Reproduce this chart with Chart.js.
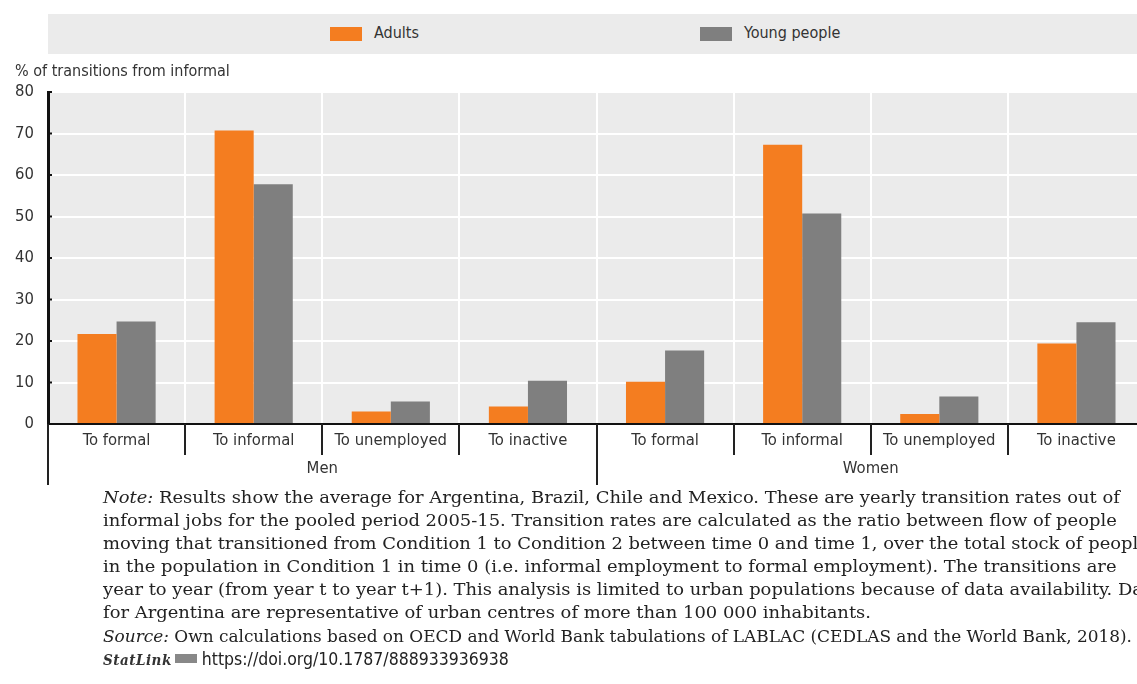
<!DOCTYPE html>
<html>
<head>
<meta charset="utf-8">
<script src="https://cdn.jsdelivr.net/npm/chart.js@4"></script>
<style>
  html, body { margin: 0; padding: 0; background: #fff; }
  body { width: 1137px; height: 684px; overflow: hidden; position: relative; }
  .narrow { font-family: "DejaVu Sans Condensed", "Liberation Sans Narrow", sans-serif; color: #333; }
  #legend { position: absolute; left: 48px; top: 14px; width: 1100px; height: 40px; background: #ebebeb; }
  .swatch { position: absolute; top: 13px; width: 32px; height: 14px; }
  .legText { position: absolute; top: 9px; font-size: 16px; line-height: 20px; }
  #yTitle { position: absolute; left: 15px; top: 61px; font-size: 16px; line-height: 20px; }
  #chartBox { position: absolute; left: 0; top: 0; width: 1150px; height: 490px; }
  #notes { position: absolute; left: 103px; top: 486px; font-family: "DejaVu Serif Condensed", "DejaVu Serif", serif;
           font-size: 17px; line-height: 23px; color: #222; }
  #notes div { white-space: nowrap; transform-origin: 0 0; width: max-content; }
  #notes .src { margin-top: 1px; }
  .statlink { font-weight: bold; font-style: italic; color: #333; font-size: 15px; letter-spacing: 0.5px; }
  .logo { display: inline-block; width: 22px; height: 9px; background: #888; margin: 0 5px 0 3px; vertical-align: 2px; }
  .url { font-family: "DejaVu Sans Condensed", sans-serif; font-size: 17.5px; color: #222; }
</style>
</head>
<body>
<div id="chartBox"><canvas id="chart" width="1150" height="490"></canvas></div>
<div id="legend" class="narrow">
  <div class="swatch" style="left:282px;background:#f47d20"></div>
  <div class="legText" style="left:326px">Adults</div>
  <div class="swatch" style="left:652px;background:#7f7f7f"></div>
  <div class="legText" style="left:696px">Young people</div>
</div>
<div id="yTitle" class="narrow">% of transitions from informal</div>
<div id="notes">
  <div class="nt"><i>Note:</i> Results show the average for Argentina, Brazil, Chile and Mexico. These are yearly transition rates out of</div>
  <div class="nt">informal jobs for the pooled period 2005-15. Transition rates are calculated as the ratio between flow of people</div>
  <div class="nt">moving that transitioned from Condition 1 to Condition 2 between time 0 and time 1, over the total stock of people</div>
  <div class="nt">in the population in Condition 1 in time 0 (i.e. informal employment to formal employment). The transitions are</div>
  <div class="nt">year to year (from year t to year t+1). This analysis is limited to urban populations because of data availability. Data</div>
  <div class="nt" id="lastNote">for Argentina are representative of urban centres of more than 100 000 inhabitants.</div>
  <div class="src" id="srcLine"><i>Source:</i> Own calculations based on OECD and World Bank tabulations of LABLAC (CEDLAS and the World Bank, 2018).</div>
  <div><span class="statlink">StatLink</span><span class="logo"></span><span class="url">https://doi.org/10.1787/888933936938</span></div>
</div>
<script>
const categories = ["To formal", "To informal", "To unemployed", "To inactive",
                    "To formal", "To informal", "To unemployed", "To inactive"];
const groups = ["Men", "Women"];
const adults = [21.7, 70.7, 3.0, 4.2, 10.2, 67.3, 2.4, 19.4];
const youngPeople = [24.7, 57.8, 5.4, 10.4, 17.7, 50.7, 6.6, 24.5];
const yTicks = [0, 10, 20, 30, 40, 50, 60, 70, 80];

const labelFont = { family: "'DejaVu Sans Condensed', 'Liberation Sans Narrow', sans-serif", size: 16.5 };

// grey plot background, little ticks on the y axis, separators and group names under the axis
const decorations = {
  id: "decorations",
  beforeDraw(chart) {
    const a = chart.chartArea;
    const ctx = chart.ctx;
    ctx.save();
    ctx.fillStyle = "#ebebeb";
    ctx.fillRect(a.left, a.top, a.right - a.left, a.bottom - a.top);
    ctx.restore();
  },
  afterDraw(chart) {
    const a = chart.chartArea;
    const ctx = chart.ctx;
    const x = chart.scales.x;
    const y = chart.scales.y;
    ctx.save();
    ctx.strokeStyle = "#111";
    ctx.lineWidth = 2;
    yTicks.forEach((v) => {
      const py = y.getPixelForValue(v);
      ctx.beginPath();
      ctx.moveTo(a.left, py);
      ctx.lineTo(a.left + 4, py);
      ctx.stroke();
    });
    const step = x.getPixelForValue(1) - x.getPixelForValue(0);
    ctx.strokeStyle = "#222";
    for (let i = 0; i <= categories.length; i++) {
      const px = Math.round(x.getPixelForValue(i) - step / 2);
      const long = i % 4 === 0;
      ctx.beginPath();
      ctx.moveTo(px, a.bottom);
      ctx.lineTo(px, a.bottom + (long ? 61 : 31));
      ctx.stroke();
    }
    ctx.fillStyle = "#333";
    ctx.font = labelFont.size + "px " + labelFont.family;
    ctx.textAlign = "center";
    ctx.textBaseline = "middle";
    groups.forEach((g, i) => {
      const px = (x.getPixelForValue(i * 4 + 1) + x.getPixelForValue(i * 4 + 2)) / 2;
      ctx.fillText(g, px, a.bottom + 45);
    });
    ctx.restore();
  }
};

const chart = new Chart(document.getElementById("chart").getContext("2d"), {
  type: "bar",
  data: {
    labels: categories,
    datasets: [
      { label: "Adults", data: adults, backgroundColor: "#f47d20" },
      { label: "Young people", data: youngPeople, backgroundColor: "#7f7f7f" }
    ]
  },
  options: {
    responsive: false,
    animation: false,
    layout: { padding: { top: 92, right: 5, left: 0, bottom: 0 } },
    datasets: { bar: { barPercentage: 1, categoryPercentage: 0.57 } },
    plugins: { legend: { display: false }, tooltip: { enabled: false } },
    scales: {
      x: {
        grid: { color: "#ffffff", lineWidth: 2, drawTicks: false, offset: true },
        border: { color: "#111", width: 2 },
        ticks: { color: "#333", font: labelFont, padding: 7, maxRotation: 0, autoSkip: false },
        afterFit(scale) { scale.height = 66; }
      },
      y: {
        min: 0, max: 80,
        grid: { color: "#ffffff", lineWidth: 2, drawTicks: false },
        border: { color: "#111", width: 3 },
        ticks: { stepSize: 10, color: "#333", font: labelFont, padding: 14 },
        afterFit(scale) { scale.width = 48; }
      }
    }
  },
  plugins: [decorations]
});

// squeeze the note lines so they run as far as in the original
function fitWidth(el, target) {
  return target / el.getBoundingClientRect().width;
}
const noteScale = fitWidth(document.getElementById("lastNote"), 768);
document.querySelectorAll("#notes .nt").forEach((d) => {
  d.style.transform = "scaleX(" + noteScale + ")";
});
const src = document.getElementById("srcLine");
src.style.transform = "scaleX(" + fitWidth(src, 1029) + ")";
</script>
</body>
</html>
